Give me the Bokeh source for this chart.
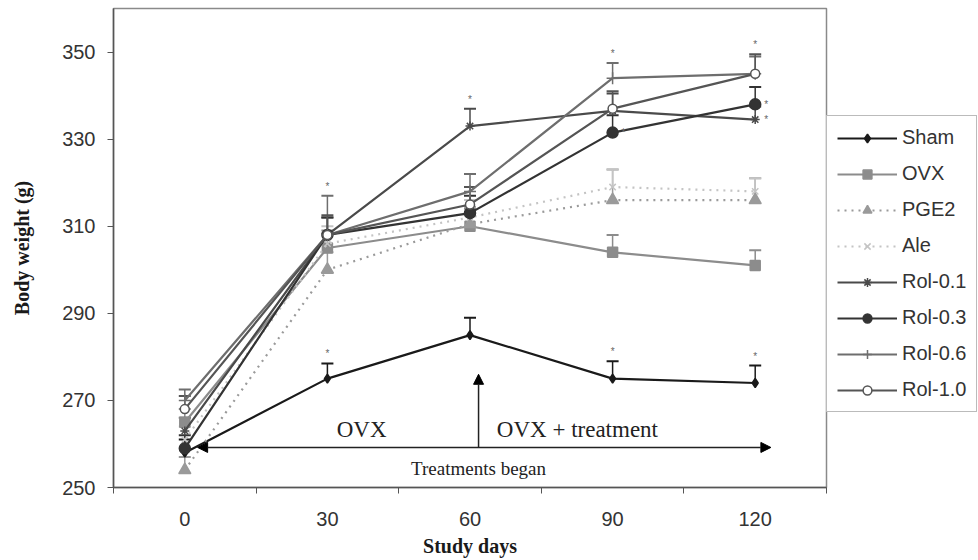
from bokeh.plotting import figure
from bokeh.models import (Range1d, FixedTicker, Legend, LegendItem, Whisker, TeeHead,
                          ColumnDataSource, Arrow, NormalHead, Label)
from bokeh.core.properties import value
from bokeh.embed import file_html
from bokeh.resources import INLINE

# ---------------- data ----------------
days = [0, 30, 60, 90, 120]
series_names = ["Sham", "OVX", "PGE2", "Ale", "Rol-0.1", "Rol-0.3", "Rol-0.6", "Rol-1.0"]

sham = [258, 275, 285, 275, 274]
ovx = [265, 305, 310, 304, 301]
pge2 = [254, 300, 310.5, 316, 316]
ale = [261, 306, 312, 319, 318]
rol_01 = [263, 308, 333, 336.5, 334.5]
rol_03 = [259, 308, 313, 331.5, 338]
rol_06 = [270, 308, 318, 344, 345]
rol_10 = [268, 308, 315, 337, 345]

sham_err = [3, 3.5, 4, 4, 4]
ovx_err = [3, 4, 4, 4, 3.5]
pge2_err = [3, 4, 4, 7, 5]
ale_err = [3, 4, 4, 4, 3]
rol_01_err = [3, 4, 4, 4, 3]
rol_03_err = [3, 4, 4, 4, 4]
rol_06_err = [2.5, 9, 4, 3.5, 4]
rol_10_err = [3, 4.5, 4, 4, 4.5]

# significance asterisks: (series, day index)
stars_above = [("Sham", 1), ("Sham", 3), ("Sham", 4), ("Rol-0.6", 1),
               ("Rol-0.1", 2), ("Rol-0.6", 3), ("Rol-1.0", 4)]
stars_right = [("Rol-0.3", 3), ("Rol-0.3", 4), ("Rol-0.1", 4)]

y_ticks = [250, 270, 290, 310, 330, 350]

values = [sham, ovx, pge2, ale, rol_01, rol_03, rol_06, rol_10]
errors = [sham_err, ovx_err, pge2_err, ale_err, rol_01_err, rol_03_err, rol_06_err, rol_10_err]

# styles
styles = {
    "Sham":    dict(color="#1a1a1a", dash="solid",  marker="diamond",  size=9,  fill="#1a1a1a"),
    "OVX":     dict(color="#8c8c8c", dash="solid",  marker="square",   size=10, fill="#8c8c8c"),
    "PGE2":    dict(color="#9a9a9a", dash="2 5",    marker="triangle", size=12, fill="#9a9a9a"),
    "Ale":     dict(color="#c4c4c4", dash="2 5",    marker="x",        size=9,  fill="#c4c4c4"),
    "Rol-0.1": dict(color="#4a4a4a", dash="solid",  marker="asterisk", size=9,  fill="#4a4a4a"),
    "Rol-0.3": dict(color="#333333", dash="solid",  marker="circle",   size=11, fill="#333333"),
    "Rol-0.6": dict(color="#6e6e6e", dash="solid",  marker="cross",    size=12, fill="#6e6e6e"),
    "Rol-1.0": dict(color="#555555", dash="solid",  marker="circle",   size=9,  fill="white"),
}

p = figure(frame_width=713, frame_height=479, output_backend="svg", toolbar_location=None,
           x_range=Range1d(-15, 135), y_range=Range1d(250, 360),
           min_border_left=113, min_border_right=0, min_border_top=8, min_border_bottom=0)
p.background_fill_color = "white"
p.border_fill_color = "white"
p.outline_line_color = "#8a8a8a"
p.outline_line_width = 1.5
p.xgrid.visible = False
p.ygrid.visible = False

# axes
p.xaxis.ticker = FixedTicker(ticks=days, minor_ticks=[-15, 15, 45, 75, 105, 135])
p.xaxis.major_tick_out = 0
p.xaxis.major_tick_in = 0
p.xaxis.minor_tick_out = 6
p.xaxis.minor_tick_in = 0
p.xaxis.minor_tick_line_color = "#555555"
p.yaxis.ticker = FixedTicker(ticks=y_ticks, minor_ticks=[])
p.yaxis.major_tick_out = 6
p.yaxis.major_tick_in = 0
for ax in (p.xaxis, p.yaxis):
    ax.axis_line_color = "#555555"
    ax.axis_line_width = 1.5
    ax.major_tick_line_color = "#555555"
    ax.major_label_text_font = "Liberation Sans"
    ax.major_label_text_font_size = "20px"
    ax.major_label_text_color = "#333333"
    ax.axis_label_text_font = "Liberation Serif"
    ax.axis_label_text_font_style = "bold"
    ax.axis_label_text_font_size = "20px"
    ax.axis_label_text_color = "#1a1a1a"
p.xaxis.axis_label = "Study days"
p.yaxis.axis_label = "Body weight (g)"
p.xaxis.major_label_standoff = 18
p.xaxis.axis_label_standoff = 6
p.yaxis.major_label_standoff = 12
p.yaxis.axis_label_standoff = 26

items = []
for name, vals, errs in zip(series_names, values, errors):
    st = styles[name]
    src = ColumnDataSource(dict(x=days, y=vals, up=[v + e for v, e in zip(vals, errs)]))
    w = Whisker(source=src, base="x", lower="y", upper="up", dimension="height",
                line_color=st["color"], line_width=1.5,
                upper_head=TeeHead(size=12, line_color=st["color"], line_width=2),
                lower_head=None)
    p.add_layout(w)
    lr = p.line("x", "y", source=src, line_color=st["color"], line_width=2.2,
                line_dash=st["dash"])
    sr = p.scatter("x", "y", source=src, marker=st["marker"], size=st["size"],
                   line_color=st["color"], fill_color=st["fill"], line_width=1.5)
    items.append(LegendItem(label=name, renderers=[lr, sr]))

# asterisks
lookup = {n: (v, e) for n, v, e in zip(series_names, values, errors)}
ax_x, ax_y, rx, ry = [], [], [], []
for n, i in stars_above:
    v, e = lookup[n]
    ax_x.append(days[i]); ax_y.append(v[i] + e[i])
for n, i in stars_right:
    v, e = lookup[n]
    rx.append(days[i]); ry.append(v[i])
p.text(ax_x, ax_y, text=["*"] * len(ax_x), text_font=value("Liberation Sans"),
       text_font_size="10px", text_color="#666666", text_align="center",
       text_baseline="bottom", y_offset=-4)
p.text(rx, ry, text=["*"] * len(rx), text_font=value("Liberation Sans"),
       text_font_size="10px", text_color="#666666", text_align="left",
       text_baseline="middle", x_offset=9)

# annotations
p.add_layout(Arrow(start=NormalHead(size=10, fill_color="black", line_color="black"),
                   end=NormalHead(size=10, fill_color="black", line_color="black"),
                   x_start=2.7, y_start=259.2, x_end=123.3, y_end=259.2,
                   line_color="#222222", line_width=1.5))
p.add_layout(Arrow(end=NormalHead(size=10, fill_color="black", line_color="black"),
                   x_start=61.8, y_start=259.2, x_end=61.8, y_end=276.0,
                   line_color="#222222", line_width=1.5))
for txt, xx, yy in [("OVX", 37.2, 260.4), ("OVX + treatment", 82.6, 260.4)]:
    p.add_layout(Label(x=xx, y=yy, text=txt, text_font="Liberation Serif",
                       text_font_size="23px", text_color="#222222",
                       text_align="center", text_baseline="bottom"))
p.add_layout(Label(x=61.8, y=252.0, text="Treatments began", text_font="Liberation Serif",
                   text_font_size="19px", text_color="#222222",
                   text_align="center", text_baseline="bottom"))

legend = Legend(items=items, location=(0, 75), orientation="vertical",
                label_text_font="Liberation Sans", label_text_font_size="20px",
                label_text_color="#333333", glyph_width=60, glyph_height=22,
                label_height=22, label_width=64, spacing=13, padding=10, margin=0,
                label_standoff=5, border_line_color="#777777", border_line_width=1.5,
                background_fill_color="white", background_fill_alpha=1.0)
p.add_layout(legend, "right")

open("out.html", "w").write(file_html(p, INLINE))
